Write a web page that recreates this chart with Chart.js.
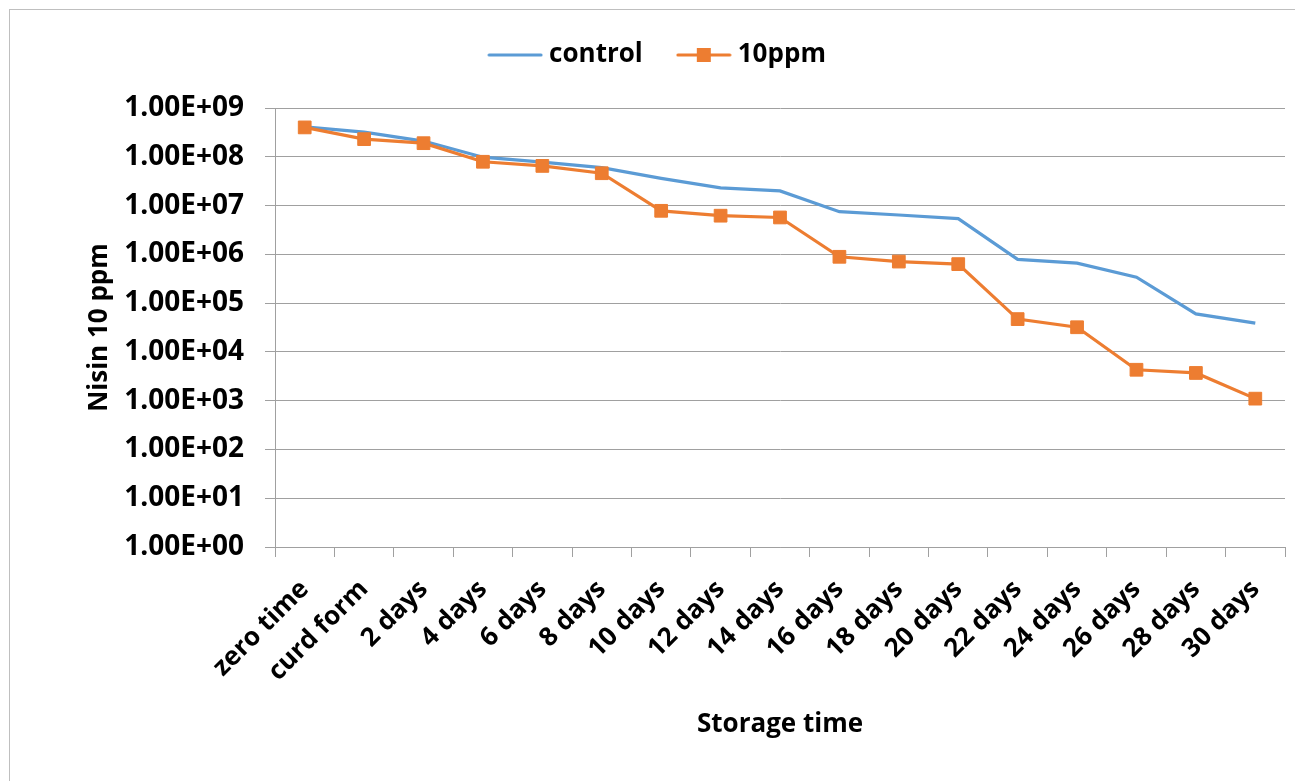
<!DOCTYPE html>
<html>
<head>
<meta charset="utf-8">
<script src="https://cdn.jsdelivr.net/npm/chart.js@4/dist/chart.umd.min.js"></script>
<style>
  html, body { margin: 0; padding: 0; background: #ffffff; }
  #wrap { position: relative; width: 1295px; height: 781px; }
  canvas { display: block; }
</style>
</head>
<body>
<div id="wrap"><canvas id="c" width="1295" height="781"></canvas></div>
<script>
const categories = ['zero time', 'curd form', '2 days', '4 days', '6 days', '8 days', '10 days', '12 days',
  '14 days', '16 days', '18 days', '20 days', '22 days', '24 days', '26 days', '28 days', '30 days'];
const controlValues = [4.1e8, 3.2e8, 2.1e8, 9.8e7, 7.8e7, 6.0e7, 3.6e7, 2.3e7, 2.0e7,
  7.5e6, 6.4e6, 5.4e6, 7.9e5, 6.6e5, 3.4e5, 6.0e4, 3.9e4];
const ppm10Values = [4.0e8, 2.3e8, 1.9e8, 7.9e7, 6.5e7, 4.6e7, 7.8e6, 6.2e6, 5.7e6,
  8.9e5, 7.1e5, 6.3e5, 4.7e4, 3.2e4, 4.3e3, 3.7e3, 1.1e3];
const yTickValues = [1e0, 1e1, 1e2, 1e3, 1e4, 1e5, 1e6, 1e7, 1e8, 1e9];
const seriesNames = ['control', '10ppm'];

const BLUE = '#5B9BD5';
const ORANGE = '#ED7D31';
const GRID = '#A0A0A0';
const FONT = '"Open Sans"';

function legendSymbol(color, withMarker) {
  const cv = document.createElement('canvas');
  cv.width = 56; cv.height = 16;
  const g = cv.getContext('2d');
  g.strokeStyle = color; g.lineWidth = 3; g.lineCap = 'round';
  g.beginPath(); g.moveTo(2, 8); g.lineTo(54, 8); g.stroke();
  if (withMarker) { g.fillStyle = color; g.fillRect(21, 1, 14, 14); }
  return cv;
}
const legendSymbols = [legendSymbol(BLUE, false), legendSymbol(ORANGE, true)];

const borderPlugin = {
  id: 'outerBorder',
  beforeDraw(chart) {
    const ctx = chart.ctx;
    ctx.save();
    ctx.strokeStyle = '#BFBFBF';
    ctx.lineWidth = 1;
    ctx.strokeRect(9.5, 9.5, 1400, 1000);
    ctx.restore();
  }
};
const legendSpace = {
  id: 'legendSpace',
  beforeInit(chart) {
    const origFit = chart.legend.fit;
    chart.legend.fit = function () {
      origFit.bind(chart.legend)();
      this.height = 108;
    };
  },
  afterLayout(chart) {
    chart.legend.left += 17;
    chart.legend.right += 17;
    chart.legend.top += 2;
  }
};

new Chart(document.getElementById('c'), {
  type: 'line',
  data: {
    labels: categories,
    datasets: [
      {
        label: seriesNames[0], data: controlValues, borderColor: BLUE, backgroundColor: BLUE,
        borderWidth: 3.2, pointRadius: 0, pointHoverRadius: 0, tension: 0, order: 1
      },
      {
        label: seriesNames[1], data: ppm10Values, borderColor: ORANGE, backgroundColor: ORANGE,
        borderWidth: 3.2, pointStyle: 'rect', pointRadius: 9, pointBorderWidth: 1,
        pointBackgroundColor: ORANGE, pointBorderColor: ORANGE, tension: 0, order: 0
      }
    ]
  },
  options: {
    responsive: false,
    animation: false,
    layout: { padding: { top: 0, right: 9, bottom: 0, left: 0 } },
    plugins: {
      tooltip: { enabled: false },
      legend: {
        display: true,
        position: 'top',
        labels: {
          usePointStyle: true,
          pointStyleWidth: 42,
          padding: 40,
          color: '#000',
          font: { family: FONT, size: 26, weight: 'bold' },
          generateLabels(chart) {
            return chart.data.datasets.map((ds, i) => ({
              text: ds.label, datasetIndex: i, pointStyle: legendSymbols[i],
              fillStyle: ds.borderColor, strokeStyle: ds.borderColor, lineWidth: 0,
              hidden: !chart.isDatasetVisible(i), fontColor: '#000'
            }));
          }
        }
      }
    },
    scales: {
      x: {
        type: 'category',
        offset: true,
        grid: { display: true, drawOnChartArea: false, offset: true, tickLength: 10, color: GRID, lineWidth: 1 },
        border: { display: true, color: GRID, width: 1 },
        ticks: {
          color: '#000', maxRotation: 45, minRotation: 45, autoSkip: false, padding: 17,
          font: { family: FONT, size: 26, weight: 'bold' }
        },
        title: {
          display: true, text: 'Storage time', color: '#000',
          font: { family: FONT, size: 26, weight: 'bold' },
          padding: { top: 0, bottom: 41 }
        },
        afterFit(scale) { scale.height = 781 - 547; }
      },
      y: {
        type: 'logarithmic',
        min: 1, max: 1e9,
        grid: { display: true, drawOnChartArea: true, tickLength: 10, color: GRID, lineWidth: 1 },
        border: { display: true, color: GRID, width: 1 },
        afterBuildTicks(scale) { scale.ticks = yTickValues.map(v => ({ value: v, major: true })); },
        ticks: {
          color: '#000', padding: 21,
          font: { family: FONT, size: 28, weight: 'bold' },
          callback(v) {
            const e = Math.round(Math.log10(v));
            return '1.00E+' + String(e).padStart(2, '0');
          }
        },
        title: {
          display: true, text: 'Nisin 10 ppm', color: '#000',
          font: { family: FONT, size: 26, weight: 'bold' },
          padding: { top: 84, bottom: 0 }
        },
        afterFit(scale) { scale.width = 275; }
      }
    }
  },
  plugins: [borderPlugin, legendSpace]
});
</script>
</body>
</html>
